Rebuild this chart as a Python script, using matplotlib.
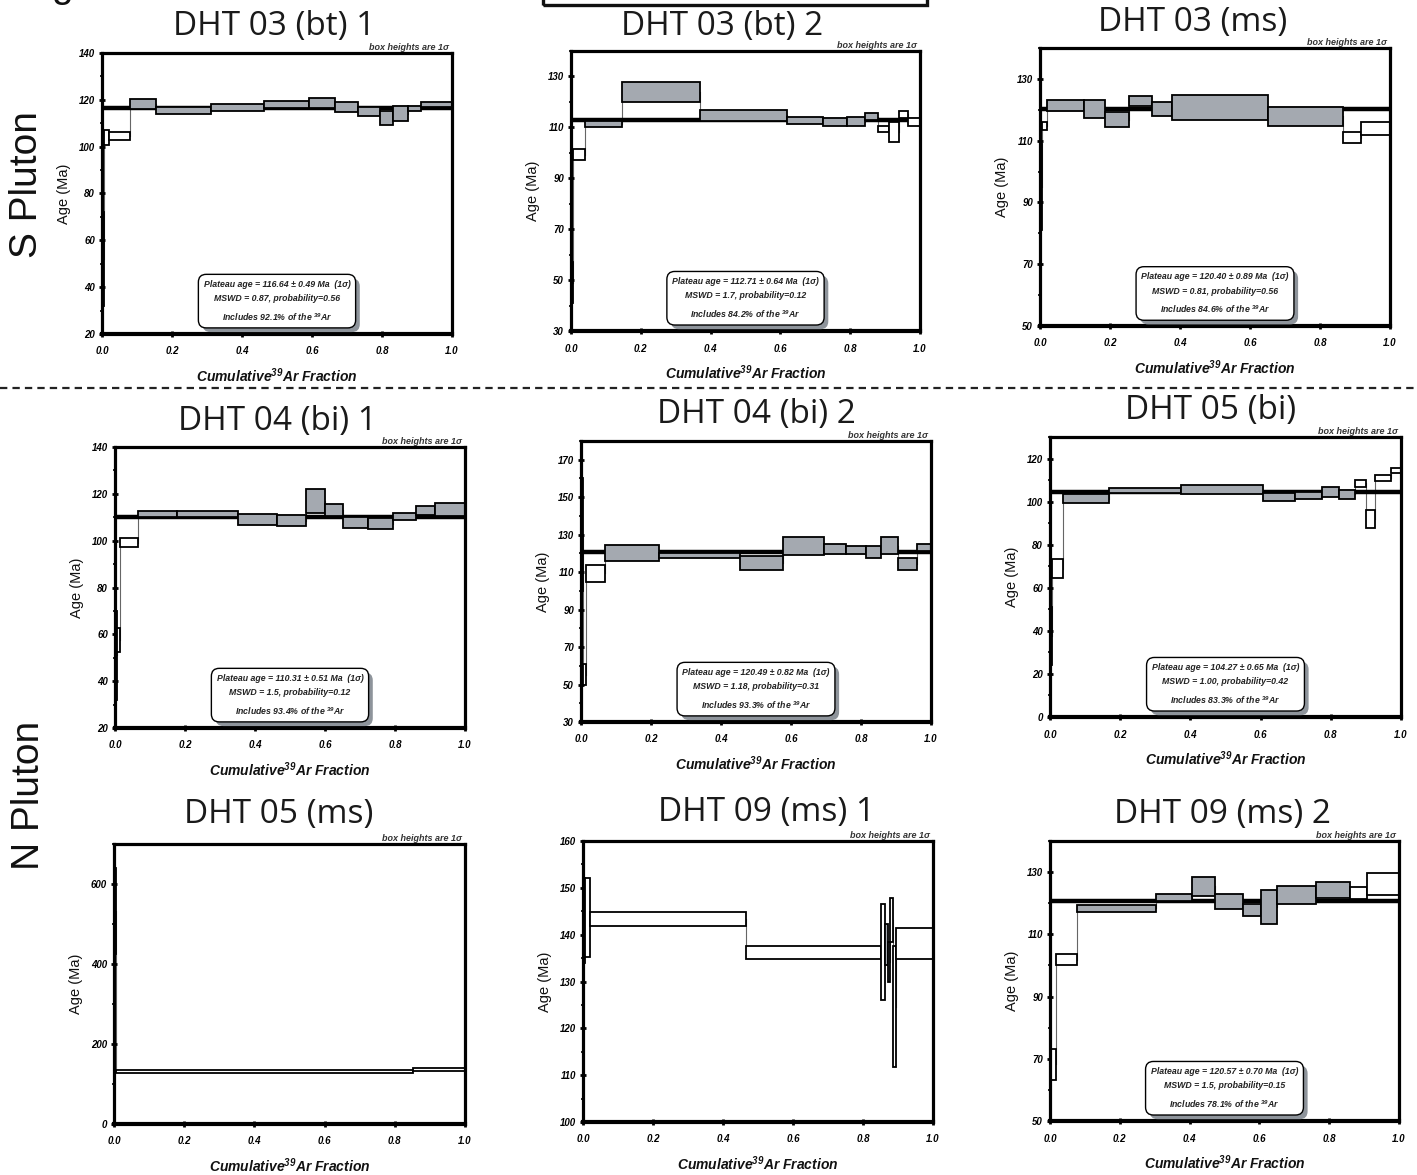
import matplotlib
matplotlib.use("Agg")
import matplotlib.pyplot as plt
from matplotlib.patches import Rectangle
from matplotlib.ticker import MultipleLocator
import matplotlib.patheffects as pe
from matplotlib.font_manager import FontProperties

plt.rcParams['font.family'] = ['Liberation Sans', 'DejaVu Sans']
plt.rcParams['mathtext.default'] = 'regular'

# ---------------- data ----------------
titles = ["DHT 03 (bt) 1", "DHT 03 (bt) 2", "DHT 03 (ms)",
          "DHT 04 (bi) 1", "DHT 04 (bi) 2", "DHT 05 (bi)",
          "DHT 05 (ms)", "DHT 09 (ms) 1", "DHT 09 (ms) 2"]
row_labels = ["S Pluton", "N Pluton"]

# panel 1: DHT 03 (bt) 1
p1_cum = [0.0, 0.005, 0.02, 0.081, 0.155, 0.312, 0.464, 0.592, 0.665, 0.730, 0.794, 0.830, 0.874, 0.911, 1.0]
p1_age = [52.0, 103.9, 104.4, 118.2, 115.4, 116.8, 118.0, 118.6, 116.9, 115.05, 112.3, 114.1, 116.3, 118.0]
p1_err = [20.0, 3.4, 1.7, 2.0, 1.5, 1.6, 1.6, 2.0, 2.0, 1.85, 3.05, 3.1, 1.2, 1.2]
p1_plat = [0, 0, 0, 1, 1, 1, 1, 1, 1, 1, 1, 1, 1, 1]
p1_yticks = [20, 40, 60, 80, 100, 120, 140]

# panel 2: DHT 03 (bt) 2
p2_cum = [0.0, 0.006, 0.040, 0.147, 0.370, 0.618, 0.723, 0.790, 0.843, 0.880, 0.912, 0.940, 0.967, 1.0]
p2_age = [49.0, 99.25, 111.25, 123.85, 114.75, 112.75, 112.0, 112.3, 114.2, 109.25, 108.1, 115.2, 112.1]
p2_err = [8.0, 2.25, 1.25, 4.05, 2.25, 1.45, 1.5, 1.9, 1.5, 1.25, 4.0, 1.4, 1.7]
p2_plat = [0, 0, 1, 1, 1, 1, 1, 1, 1, 0, 0, 0, 0]
p2_yticks = [30, 50, 70, 90, 110, 130]

# panel 3: DHT 03 (ms)
p3_cum = [0.0, 0.006, 0.019, 0.126, 0.185, 0.254, 0.321, 0.378, 0.652, 0.865, 0.917, 1.0]
p3_age = [95.0, 114.65, 121.4, 120.15, 116.8, 122.8, 120.3, 120.75, 117.9, 110.9, 113.9]
p3_err = [14.0, 1.25, 1.9, 2.95, 2.5, 1.6, 2.3, 3.95, 3.1, 1.8, 2.0]
p3_plat = [0, 0, 1, 1, 1, 1, 1, 1, 1, 0, 0]
p3_yticks = [50, 70, 90, 110, 130]

# panel 4: DHT 04 (bi) 1
p4_cum = [0.0, 0.005, 0.014, 0.067, 0.176, 0.350, 0.462, 0.546, 0.600, 0.652, 0.724, 0.795, 0.859, 0.914, 1.0]
p4_age = [51.0, 57.65, 99.1, 111.25, 111.45, 109.05, 108.6, 117.1, 113.05, 107.95, 107.3, 110.45, 112.8, 113.35]
p4_err = [19.0, 5.15, 1.9, 1.25, 1.15, 2.45, 2.3, 5.1, 2.45, 2.35, 2.3, 1.55, 1.8, 2.65]
p4_plat = [0, 0, 0, 1, 1, 1, 1, 1, 1, 1, 1, 1, 1, 1]
p4_yticks = [20, 40, 60, 80, 100, 120, 140]

# panel 5: DHT 04 (bi) 2
p5_cum = [0.0, 0.005, 0.014, 0.068, 0.224, 0.455, 0.577, 0.693, 0.757, 0.815, 0.856, 0.905, 0.960, 1.0]
p5_age = [130.0, 55.3, 109.3, 120.25, 118.95, 114.75, 123.7, 122.15, 121.7, 120.8, 124.1, 114.2, 123.2]
p5_err = [30.0, 5.8, 4.6, 4.15, 1.45, 3.85, 4.8, 2.65, 2.2, 3.3, 4.6, 3.3, 1.8]
p5_plat = [0, 0, 0, 1, 1, 1, 1, 1, 1, 1, 1, 1, 1]
p5_yticks = [30, 50, 70, 90, 110, 130, 150, 170]

# panel 6: DHT 05 (bi)
p6_cum = [0.0, 0.006, 0.038, 0.169, 0.373, 0.606, 0.699, 0.775, 0.824, 0.870, 0.901, 0.927, 0.971, 1.0]
p6_age = [37.7, 68.8, 101.35, 105.1, 105.55, 102.0, 102.8, 104.55, 103.45, 108.45, 91.85, 110.9, 114.45]
p6_err = [13.5, 4.4, 2.15, 1.3, 2.05, 1.8, 1.8, 2.35, 2.15, 1.55, 4.25, 1.4, 1.35]
p6_plat = [0, 0, 1, 1, 1, 1, 1, 1, 1, 0, 0, 0, 0]
p6_yticks = [0, 20, 40, 60, 80, 100, 120]

# panel 7: DHT 05 (ms)
p7_cum = [0.0, 0.006, 0.851, 1.0]
p7_age = [532.0, 131.7, 136.3]
p7_err = [107.0, 3.0, 3.5]
p7_plat = [0, 0, 0]
p7_yticks = [0, 200, 400, 600]

# panel 8: DHT 09 (ms) 1
p8_cum = [0.0, 0.006, 0.019, 0.467, 0.850, 0.864, 0.872, 0.878, 0.886, 0.895, 1.0]
p8_age = [143.0, 143.6, 143.35, 136.15, 136.25, 137.85, 134.15, 143.15, 124.65, 138.1]
p8_err = [9.0, 8.4, 1.55, 1.45, 10.25, 4.35, 4.25, 4.75, 12.95, 3.4]
p8_plat = [0, 0, 0, 0, 0, 1, 1, 0, 0, 0]
p8_yticks = [100, 110, 120, 130, 140, 150, 160]

# panel 9: DHT 09 (ms) 2
p9_cum = [0.0, 0.016, 0.076, 0.304, 0.408, 0.473, 0.554, 0.606, 0.649, 0.762, 0.860, 0.907, 1.0]
p9_age = [68.3, 101.85, 118.35, 121.8, 125.45, 120.65, 117.8, 118.75, 122.7, 124.25, 123.3, 126.25]
p9_err = [5.0, 1.75, 1.15, 1.2, 3.05, 2.45, 2.0, 5.35, 2.9, 2.45, 1.9, 3.45]
p9_plat = [0, 0, 1, 1, 1, 1, 1, 1, 1, 1, 0, 0]
p9_yticks = [50, 70, 90, 110, 130]

ylims = [(20, 140), (30, 140), (50, 140), (20, 140), (30, 180), (0, 130), (0, 700), (100, 160), (50, 140)]

plateau_age = [116.64, 112.71, 120.40, 110.31, 120.49, 104.27, None, None, 120.57]
plateau_err = ["0.49", "0.64", "0.89", "0.51", "0.82", "0.65", None, None, "0.70"]
mswd = ["0.87", "1.7", "0.81", "1.5", "1.18", "1.00", None, None, "1.5"]
prob = ["0.56", "0.12", "0.56", "0.12", "0.31", "0.42", None, None, "0.15"]
pct = ["92.1", "84.2", "84.6", "93.4", "93.3", "83.3", None, None, "78.1"]
xticks = [0.0, 0.2, 0.4, 0.6, 0.8, 1.0]
xtick_labels = ["0.0", "0.2", "0.4", "0.6", "0.8", "1.0"]

cums = [p1_cum, p2_cum, p3_cum, p4_cum, p5_cum, p6_cum, p7_cum, p8_cum, p9_cum]
agesL = [p1_age, p2_age, p3_age, p4_age, p5_age, p6_age, p7_age, p8_age, p9_age]
errsL = [p1_err, p2_err, p3_err, p4_err, p5_err, p6_err, p7_err, p8_err, p9_err]
plats = [p1_plat, p2_plat, p3_plat, p4_plat, p5_plat, p6_plat, p7_plat, p8_plat, p9_plat]
yticksL = [p1_yticks, p2_yticks, p3_yticks, p4_yticks, p5_yticks, p6_yticks, p7_yticks, p8_yticks, p9_yticks]

# ---------------- layout (pixels) ----------------
W, H = 1417, 1175
axes_px = [(102, 53, 452, 334), (571, 51, 920, 331), (1040, 48, 1390, 326),
           (115, 447, 465, 728), (581, 441, 931, 722), (1050, 437, 1401, 717),
           (114, 844, 465, 1124), (583, 841, 933, 1122), (1050, 841, 1399, 1121)]
title_px = [(274, 27), (722, 27), (1193, 22), (277, 422), (756, 415), (1211, 410),
            (279, 815), (767, 812), (1223, 814)]

GRAY = '#a4a9b0'
SHADOW = '#8e949b'

fig = plt.figure(figsize=(W / 100, H / 100), dpi=100)
fig.patch.set_facecolor('white')

tick_fp = FontProperties(family=['Liberation Sans', 'DejaVu Sans'], weight='bold', style='italic', size=7)

for i in range(9):
    l, t, r, b = axes_px[i]
    ax = fig.add_axes([l / W, 1 - b / H, (r - l) / W, (b - t) / H])
    wpx, hpx = r - l, b - t
    cum, age, err, plat = cums[i], agesL[i], errsL[i], plats[i]
    n = len(age)
    ax.set_xlim(0, 1)
    ax.set_ylim(*ylims[i])

    # connectors between steps
    for k in range(n - 1):
        ax.plot([cum[k + 1], cum[k + 1]], [age[k], age[k + 1]], color='#666666', lw=0.8, zorder=1)
    # plateau line
    if plateau_age[i] is not None:
        ax.axhline(plateau_age[i], color='black', lw=3.2, zorder=1.5)
    # step boxes
    for k in range(n):
        ax.add_patch(Rectangle((cum[k], age[k] - err[k]), cum[k + 1] - cum[k], 2 * err[k],
                               facecolor=GRAY if plat[k] else 'white', edgecolor='black',
                               lw=1.3, zorder=2))

    # axes styling
    for s in ax.spines.values():
        s.set_linewidth(2.3)
        s.set_zorder(5)
    ax.spines['bottom'].set_linewidth(3.0)
    ax.set_xticks(xticks)
    ax.set_xticklabels(xtick_labels)
    ax.xaxis.set_minor_locator(MultipleLocator(0.1))
    yt = yticksL[i]
    ax.set_yticks(yt)
    ax.set_yticklabels([str(v) for v in yt])
    ax.yaxis.set_minor_locator(MultipleLocator((yt[1] - yt[0]) / 2))
    ax.tick_params(which='major', direction='inout', length=4, width=2, pad=3)
    ax.tick_params(which='minor', direction='inout', length=2.5, width=1.2)
    ax.tick_params(axis='x', which='major', pad=7)
    for lab in ax.get_xticklabels() + ax.get_yticklabels():
        lab.set_fontproperties(tick_fp)

    ax.set_ylabel('Age (Ma)', fontsize=10.5, color='#111111')
    ax.yaxis.set_label_coords(-31 / wpx, 0.5)
    ax.set_xlabel('Cumulative$^{39}$Ar Fraction', fontsize=10, fontweight='bold',
                  fontstyle='italic', color='#111111')
    ax.xaxis.set_label_coords(0.5, -32 / hpx)

    # "box heights" note
    ax.text(1 - 3 / wpx, 1 + 1 / hpx, 'box heights are 1σ', transform=ax.transAxes,
            ha='right', va='bottom', fontsize=6.5, fontweight='bold', fontstyle='italic',
            color='#333333', zorder=6)

    # info box with drop shadow
    if plateau_age[i] is not None:
        txt = ("Plateau age = %.2f ± %s Ma  (1σ)\nMSWD = %s, probability=%s\nIncludes %s%% of the $^{39}$Ar"
               % (plateau_age[i], plateau_err[i], mswd[i], prob[i], pct[i]))
        tobj = ax.text(0.5, 0.117, txt, transform=ax.transAxes, color='#222222', zorder=7,
                       ha='center', va='center', multialignment='center', fontsize=6.3,
                       fontweight='bold', fontstyle='italic', linespacing=1.8,
                       bbox=dict(boxstyle='round,pad=0.6,rounding_size=0.9', fc='white', ec='black', lw=1))
        tobj.get_bbox_patch().set_path_effects([
            pe.SimplePatchShadow(offset=(3, -3), shadow_rgbFace=SHADOW, alpha=1.0),
            pe.Normal()])

    # title
    tx, ty = title_px[i]
    fig.text(tx / W, 1 - ty / H, titles[i], ha='center', va='center', fontsize=24,
             family=['Open Sans', 'DejaVu Sans'], color='#1a1a1a')

# row labels
fig.text(27 / W, 1 - 185 / H, row_labels[0], rotation=90, ha='center', va='center', fontsize=28, color='#111111')
fig.text(29 / W, 1 - 795 / H, row_labels[1], rotation=90, ha='center', va='center', fontsize=28, color='#111111')

# separator dashed line
fig.add_artist(plt.Line2D([0, 1], [1 - 388 / H, 1 - 388 / H], transform=fig.transFigure,
                          color='#222222', lw=1.6, linestyle=(0, (3.3, 2.3))))

# cropped box at top and cropped letter
fig.add_artist(Rectangle((543 / W, 1 - 5 / H), (927 - 543) / W, 30 / H, transform=fig.transFigure,
                         fill=False, ec='#111111', lw=2.4))
fig.text(62 / W, 1 + 3 / H, 'g', ha='center', va='baseline', fontsize=28, color='#111111')

fig.savefig('out.png', dpi=100, facecolor='white')
